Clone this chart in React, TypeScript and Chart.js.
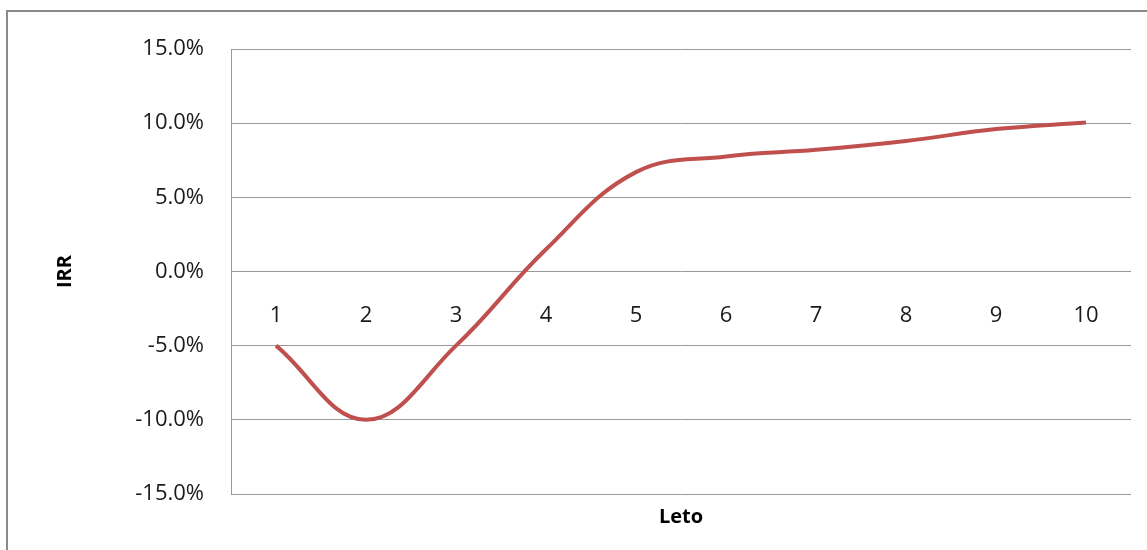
import React, { useEffect, useRef } from "react";
import { Chart, registerables } from "chart.js";

Chart.register(...registerables);

const categories: string[] = ["1", "2", "3", "4", "5", "6", "7", "8", "9", "10"];
const irrValues: number[] = [-5, -10, -5, 1.5, 6.7, 7.75, 8.2, 8.8, 9.6, 10.05];
const yMin = -15;
const yMax = 15;
const yStep = 5;
const xTitle = "Leto";
const yTitle = "IRR";

const FONT = "'Open Sans', 'DejaVu Sans', sans-serif";

export default function App() {
  const canvasRef = useRef<HTMLCanvasElement | null>(null);

  useEffect(() => {
    if (!canvasRef.current) return;
    const chart = new Chart(canvasRef.current, {
      type: "line",
      data: {
        labels: categories,
        datasets: [
          {
            label: yTitle,
            data: irrValues,
            borderColor: "#C0504D",
            backgroundColor: "#C0504D",
            borderWidth: 4,
            pointRadius: 0,
            tension: 0.4,
            fill: false,
            xAxisID: "x",
            yAxisID: "y",
          },
        ],
      },
      options: {
        animation: false,
        responsive: true,
        maintainAspectRatio: false,
        layout: { padding: { left: 0, top: 49, right: 16, bottom: 0 } },
        plugins: {
          legend: { display: false },
          tooltip: { enabled: false },
        },
        scales: {
          y: {
            type: "linear",
            position: "left",
            min: yMin,
            max: yMax,
            ticks: {
              stepSize: yStep,
              padding: 27,
              color: "#1a1a1a",
              font: { family: FONT, size: 22 },
              callback: (v: any) => Number(v).toFixed(1) + "%",
            },
            grid: { color: "#9a9a9a", lineWidth: 1, drawTicks: false },
            border: { display: true, color: "#9a9a9a", width: 1 },
            title: {
              display: true,
              text: yTitle,
              color: "#000",
              font: { family: FONT, size: 20, weight: "bold" },
              padding: { top: 53, bottom: 0 },
            },
            afterFit: (scale: any) => {
              scale.width = 231;
            },
          },
          x: {
            type: "category",
            position: { y: 0 } as any,
            offset: true,
            grid: { display: false, drawTicks: false },
            border: { display: false },
            ticks: {
              padding: 31,
              color: "#1a1a1a",
              font: { family: FONT, size: 22 },
              maxRotation: 0,
              autoSkip: false,
            },
          },
          xTitleAxis: {
            type: "category",
            position: "bottom",
            labels: categories,
            offset: true,
            grid: { display: false, drawTicks: false },
            border: { display: false },
            ticks: { display: false },
            title: {
              display: true,
              text: xTitle,
              color: "#000",
              font: { family: FONT, size: 20, weight: "bold" },
              padding: { top: 0, bottom: 21 },
            },
            afterFit: (scale: any) => {
              scale.height = 56;
            },
          },
        },
      },
    });
    return () => chart.destroy();
  }, []);

  return (
    <div
      style={{
        position: "fixed",
        left: 0,
        top: 0,
        width: 1147,
        height: 550,
        background: "#fff",
      }}
    >
      <div
        style={{
          position: "absolute",
          left: 6,
          top: 10,
          width: 1200,
          height: 600,
          borderTop: "2px solid #8a8a8a",
          borderLeft: "2px solid #8a8a8a",
          boxSizing: "border-box",
        }}
      />
      <canvas ref={canvasRef} style={{ position: "absolute", left: 0, top: 0, width: 1147, height: 550 }} />
    </div>
  );
}
